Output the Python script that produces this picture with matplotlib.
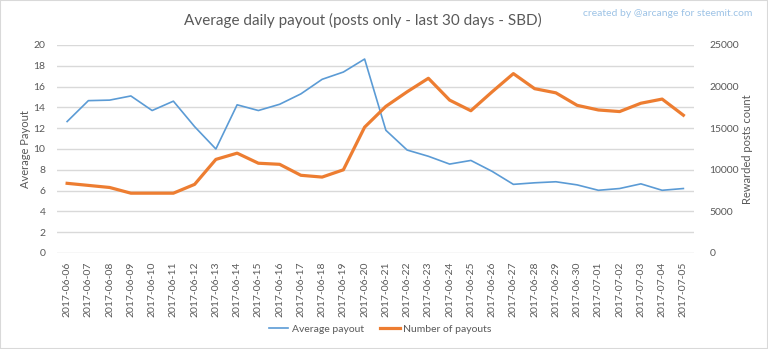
import matplotlib.pyplot as plt
from matplotlib.patches import Rectangle

plt.rcParams['font.family'] = ['Lato', 'DejaVu Sans']

# ===================== Data =====================
dates = ['2017-06-06', '2017-06-07', '2017-06-08', '2017-06-09', '2017-06-10',
         '2017-06-11', '2017-06-12', '2017-06-13', '2017-06-14', '2017-06-15',
         '2017-06-16', '2017-06-17', '2017-06-18', '2017-06-19', '2017-06-20',
         '2017-06-21', '2017-06-22', '2017-06-23', '2017-06-24', '2017-06-25',
         '2017-06-26', '2017-06-27', '2017-06-28', '2017-06-29', '2017-06-30',
         '2017-07-01', '2017-07-02', '2017-07-03', '2017-07-04', '2017-07-05']

avg_payout = [12.64, 14.65, 14.7, 15.1, 13.7, 14.6, 12.15, 10.0, 14.25, 13.7,
              14.3, 15.3, 16.7, 17.4, 18.65, 11.8, 9.9, 9.3, 8.55, 8.9,
              7.85, 6.6, 6.75, 6.85, 6.55, 6.03, 6.2, 6.65, 6.03, 6.2]

num_payouts = [8375, 8125, 7875, 7190, 7190, 7190, 8250, 11250, 12000, 10790,
               10660, 9340, 9125, 10000, 15125, 17625, 19375, 21000, 18375, 17100,
               19375, 21560, 19750, 19250, 17750, 17190, 17000, 18000, 18500, 16560]

BLUE = '#5b9bd5'
ORANGE = '#ed7d31'
TXT = '#595959'
GRID = '#d9d9d9'

# ===================== Figure =====================
fig = plt.figure(figsize=(7.68, 3.49), dpi=100)
ax = fig.add_axes([56.5 / 768, 1 - 253 / 349, (694 - 56.5) / 768, (253 - 45) / 349])
ax2 = ax.twinx()

x = list(range(len(dates)))
l1, = ax.plot(x, avg_payout, color=BLUE, lw=1.2, zorder=3)
l2, = ax2.plot(x, num_payouts, color=ORANGE, lw=2.3, zorder=3)

ax.set_xlim(-0.5, len(dates) - 0.5)
ax.set_ylim(0, 20)
ax.set_yticks(range(0, 21, 2))
ax2.set_ylim(0, 25000)
ax2.set_yticks(range(0, 25001, 5000))

ax.grid(axis='y', color=GRID, lw=1)
ax.set_axisbelow(True)
for a in (ax, ax2):
    for s in a.spines.values():
        s.set_visible(False)
    a.tick_params(length=0, colors=TXT, labelsize=7.5)
ax.tick_params(axis='y', pad=8)
ax2.tick_params(axis='y', pad=11)

ax.set_xticks(x)
ax.set_xticklabels(dates, rotation=90, fontsize=7.5, color=TXT)
ax.tick_params(axis='x', pad=6)

ax.set_ylabel('Average Payout', color=TXT, fontsize=8, labelpad=1.5)
ax2.set_ylabel('Rewarded posts count', color=TXT, fontsize=8, labelpad=2)

fig.text(0.472, 0.94, 'Average daily payout (posts only - last 30 days - SBD)',
         ha='center', va='center', fontsize=11, color=TXT)
fig.text(0.98, 0.962, 'created by @arcange for steemit.com',
         ha='right', va='center', fontsize=7.5, color='#9dc3e6')

fig.legend([l1, l2], ['Average payout', 'Number of payouts'],
           loc='center', bbox_to_anchor=(0.495, 1 - 329 / 349), ncol=2, frameon=False,
           fontsize=7.5, labelcolor=TXT, handlelength=1.9, columnspacing=1.6,
           handletextpad=0.3)

fig.patches.append(Rectangle((0, 0), 1, 1, transform=fig.transFigure, fill=False,
                             edgecolor=GRID, lw=1.5))

fig.savefig('out.png', dpi=100, facecolor='white')
